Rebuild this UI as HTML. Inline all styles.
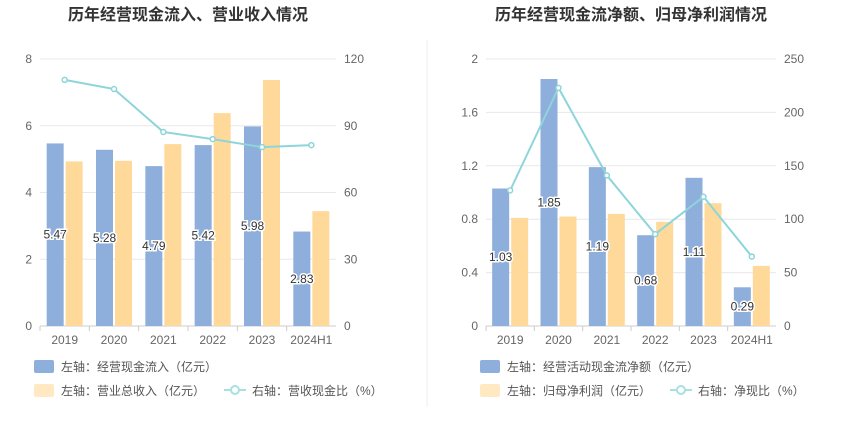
<!DOCTYPE html>
<html><head><meta charset="utf-8">
<style>
body{margin:0;background:#fff;width:850px;height:437px;overflow:hidden;font-family:"Liberation Sans","Noto Sans CJK SC",sans-serif;}
svg text{font-family:"Liberation Sans","Noto Sans CJK SC",sans-serif;}
</style></head><body>
<svg id="c" width="850" height="437">
<line x1="427" y1="40" x2="427" y2="407" stroke="#eee"/>
</svg>
<script>
const catsA=["2019","2020","2021","2022","2023","2024H1"];
const inflowA=[5.47,5.28,4.79,5.42,5.98,2.83];
const revenueA=[4.93,4.95,5.45,6.38,7.37,3.44];
const ratioA=[110.6,106.5,87.2,84.0,80.4,81.3];
const leftTicksA=[0,2,4,6,8];
const rightTicksA=[0,30,60,90,120];
const catsB=["2019","2020","2021","2022","2023","2024H1"];
const netCashB=[1.03,1.85,1.19,0.68,1.11,0.29];
const profitB=[0.81,0.82,0.84,0.78,0.92,0.45];
const netRatioB=[127,223,141,86,121,65];
const leftTicksB=["0","0.4","0.8","1.2","1.6","2"];
const rightTicksB=[0,50,100,150,200,250];

const svg=document.getElementById('c');
const NS="http://www.w3.org/2000/svg";
function mk(t,a,txt){const e=document.createElementNS(NS,t);for(const k in a)e.setAttribute(k,a[k]);if(txt!==undefined)e.textContent=txt;svg.appendChild(e);return e;}

function chart(o){
  const top=59,bot=326,x0=o.x0,x1=o.x1;
  const step=(x1-x0)/o.cats.length;
  const yL=v=>bot-(v/o.lmax)*(bot-top);
  const yR=v=>bot-(v/o.rmax)*(bot-top);
  const t=mk('text',{x:(x0+x1)/2,y:20,'text-anchor':'middle','font-size':16,'font-weight':'bold',fill:'#333'},o.title);
  
  o.lticks.forEach((lab,i)=>{
    const v=parseFloat(lab);const y=yL(v);
    const g=mk('line',{x1:x0,x2:x1,y1:y,y2:y,stroke:i==0?'#ccc':'#e8e8e8'});
    
    const l=mk('text',{x:x0-8,y:y+4,'text-anchor':'end','font-size':12,fill:'#666'},lab);
    
  });
  o.rticks.forEach(v=>{
    const r=mk('text',{x:x1+8,y:yR(v)+4,'text-anchor':'start','font-size':12,fill:'#666'},String(v));
    
  });
  const bw=17;
  o.cats.forEach((c,i)=>{
    const cx=x0+step*(i+0.5);
    const tk=mk('line',{x1:x0+step*i,x2:x0+step*i,y1:bot,y2:bot+5,stroke:'#ccc'});
    
    const xl=mk('text',{x:cx,y:bot+18,'text-anchor':'middle','font-size':12,fill:'#666'},c);
    
    const b=mk('rect',{x:cx-bw-1,y:yL(o.bar1[i]),width:bw,height:bot-yL(o.bar1[i]),fill:'#8eaedb'});
    
    const b2=mk('rect',{x:cx+1,y:yL(o.bar2[i]),width:bw,height:bot-yL(o.bar2[i]),fill:'#ffd99a'});
    
  });
  const pts=o.line.map((v,i)=>[x0+step*(i+0.5),yR(v)]);
  const pl=mk('polyline',{points:pts.map(p=>p.join(',')).join(' '),fill:'none',stroke:'#8dd5da','stroke-width':2});
  
  pts.forEach(p=>{
    const c=mk('circle',{cx:p[0],cy:p[1],r:2.5,fill:'#fff',stroke:'#8dd5da','stroke-width':1.5});
    
  });
  o.cats.forEach((c,i)=>{
    const cx=x0+step*(i+0.5)-bw/2-1;const y=(yL(o.bar1[i])+bot)/2+4;
    const l=mk('text',{x:cx,y:y,'text-anchor':'middle','font-size':12,fill:'#333',stroke:'#fff','stroke-width':3,'paint-order':'stroke'},o.bar1[i].toFixed(2));
    
  });
  const lx=o.x0-6;
  const r1=mk('rect',{x:lx,y:360,width:20,height:13,fill:'#8eaedb',rx:2});
  
  const t1=mk('text',{x:lx+27,y:371,'font-size':12,fill:'#555'},o.leg[0]);
  
  const r2=mk('rect',{x:lx,y:384,width:20,height:13,fill:'#ffe8c2',rx:2});
  
  const t2=mk('text',{x:lx+27,y:395,'font-size':12,fill:'#555'},o.leg[1]);
  
  const ll=mk('line',{x1:o.lx3,x2:o.lx3+22,y1:390,y2:390,stroke:'#a8e0e4','stroke-width':2});
  
  const lc=mk('circle',{cx:o.lx3+11,cy:390,r:4,fill:'#fff',stroke:'#a8e0e4','stroke-width':2});
  
  const t3=mk('text',{x:o.lx3+28,y:395,'font-size':12,fill:'#555'},o.leg[2]);
  
}
chart({id:'left',x0:40,x1:336,title:'历年经营现金流入、营业收入情况',cats:catsA,bar1:inflowA,bar2:revenueA,line:ratioA,lmax:8,rmax:120,lticks:leftTicksA.map(String),rticks:rightTicksA,lx3:224,leg:['左轴：经营现金流入（亿元）','左轴：营业总收入（亿元）','右轴：营收现金比（%）']});
chart({id:'right',x0:486,x1:776,title:'历年经营现金流净额、归母净利润情况',cats:catsB,bar1:netCashB,bar2:profitB,line:netRatioB,lmax:2,rmax:250,lticks:leftTicksB,rticks:rightTicksB,lx3:670,leg:['左轴：经营活动现金流净额（亿元）','左轴：归母净利润（亿元）','右轴：净现比（%）']});
</script>
</body></html>
